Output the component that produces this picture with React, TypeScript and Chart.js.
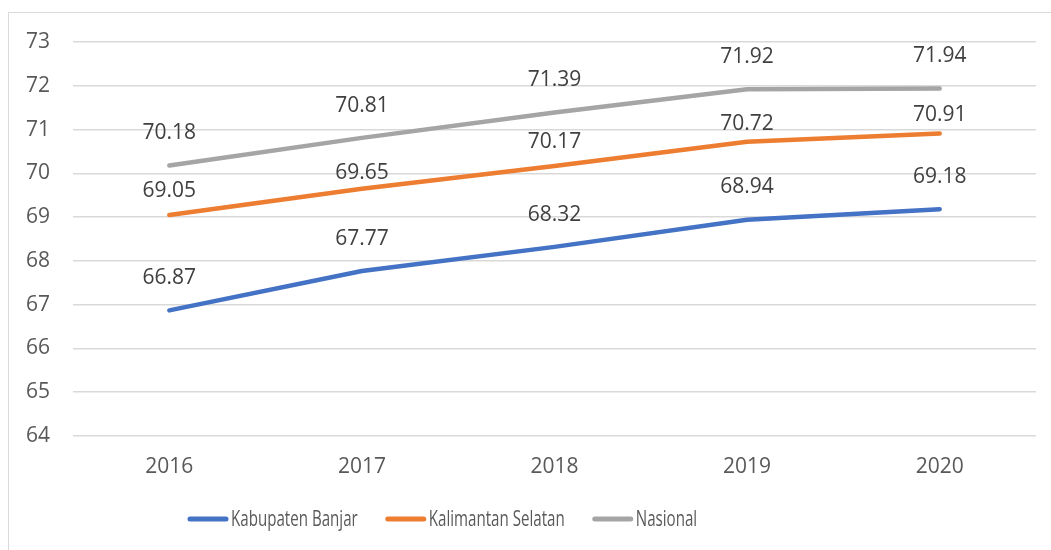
import React, { useEffect, useRef } from "react";
import { Chart, registerables } from "chart.js";

Chart.register(...registerables);

const categories = ["2016", "2017", "2018", "2019", "2020"];
const kabupatenBanjar = [66.87, 67.77, 68.32, 68.94, 69.18];
const kalimantanSelatan = [69.05, 69.65, 70.17, 70.72, 70.91];
const nasional = [70.18, 70.81, 71.39, 71.92, 71.94];
const seriesNames = ["Kabupaten Banjar", "Kalimantan Selatan", "Nasional"];
const yMin = 64;
const yMax = 73;

const COLORS = ["#4472C4", "#ED7D31", "#A5A5A5"];
const LABEL_OFFSETS = [
  [32, 32, 32, 33, 32],
  [24, 16, 24, 18, 18],
  [32, 32, 32, 32, 32],
];

const FONT = "'Open Sans', 'Noto Sans', sans-serif";

const dataLabelPlugin = {
  id: "dataLabels",
  afterDatasetsDraw(chart: any) {
    const ctx = chart.ctx;
    ctx.save();
    ctx.font = `21px ${FONT}`;
    ctx.fillStyle = "#404040";
    ctx.textAlign = "center";
    ctx.textBaseline = "middle";
    chart.data.datasets.forEach((ds: any, di: number) => {
      const meta = chart.getDatasetMeta(di);
      meta.data.forEach((pt: any, i: number) => {
        const v = ds.data[i] as number;
        ctx.fillText(v.toFixed(2), pt.x, pt.y - LABEL_OFFSETS[di][i]);
      });
    });
    ctx.restore();
  },
};

const legendPlugin = {
  id: "customLegend",
  afterDraw(chart: any) {
    const ctx = chart.ctx;
    ctx.save();
    const fontSize = 21;
    const sx = 0.72;
    ctx.font = `${fontSize}px ${FONT}`;
    ctx.textBaseline = "middle";
    ctx.textAlign = "left";
    let x = 188;
    const y = 519;
    chart.data.datasets.forEach((ds: any) => {
      ctx.strokeStyle = ds.borderColor;
      ctx.lineWidth = 5;
      ctx.lineCap = "round";
      ctx.beginPath();
      ctx.moveTo(x + 2, y);
      ctx.lineTo(x + 38, y);
      ctx.stroke();
      const tx = x + 43;
      const w = ctx.measureText(ds.label).width * sx;
      ctx.save();
      ctx.translate(tx, y);
      ctx.scale(sx, 1);
      ctx.fillStyle = "#595959";
      ctx.fillText(ds.label, 0, 1);
      ctx.restore();
      x = tx + w + 28;
    });
    ctx.restore();
  },
};

export default function App() {
  const ref = useRef<HTMLCanvasElement>(null);
  useEffect(() => {
    if (!ref.current) return;
    const allSeries = [kabupatenBanjar, kalimantanSelatan, nasional];
    const chart = new Chart(ref.current, {
      type: "line",
      data: {
        labels: categories,
        datasets: allSeries.map((d, i) => ({
          label: seriesNames[i],
          data: d,
          borderColor: COLORS[i],
          backgroundColor: COLORS[i],
          borderWidth: 4.5,
          borderCapStyle: "round",
          borderJoinStyle: "round",
          pointRadius: 0,
          pointHoverRadius: 0,
          tension: 0,
          fill: false,
        })),
      },
      options: {
        responsive: false,
        animation: false,
        events: [],
        layout: { padding: { left: 0, right: 15, top: 42, bottom: 0 } },
        plugins: {
          legend: { display: false },
          tooltip: { enabled: false },
          title: { display: false },
        },
        scales: {
          x: {
            offset: true,
            grid: { display: false, drawTicks: false },
            border: { display: false },
            ticks: {
              padding: 18,
              color: "#595959",
              font: { family: FONT, size: 21 },
              maxRotation: 0,
            },
            afterFit: (s: any) => {
              s.height = 114;
            },
          },
          y: {
            min: yMin,
            max: yMax,
            grid: { color: "#D9D9D9", lineWidth: 1.5, drawTicks: false },
            border: { display: false },
            ticks: {
              stepSize: 1,
              padding: 23,
              color: "#595959",
              font: { family: FONT, size: 21 },
            },
            afterFit: (s: any) => {
              s.width = 73;
            },
          },
        },
      },
      plugins: [dataLabelPlugin, legendPlugin],
    } as any);
    return () => chart.destroy();
  }, []);

  return (
    <div
      style={{
        position: "fixed",
        left: 0,
        top: 0,
        width: 1051,
        height: 550,
        overflow: "hidden",
        background: "#fff",
      }}
    >
      <div
        style={{
          position: "absolute",
          left: 8,
          top: 12,
          width: 1200,
          height: 700,
          border: "1px solid #D9D9D9",
        }}
      />
      <canvas
        ref={ref}
        width={1051}
        height={550}
        style={{ position: "absolute", left: 0, top: 0, width: 1051, height: 550 }}
      />
    </div>
  );
}
